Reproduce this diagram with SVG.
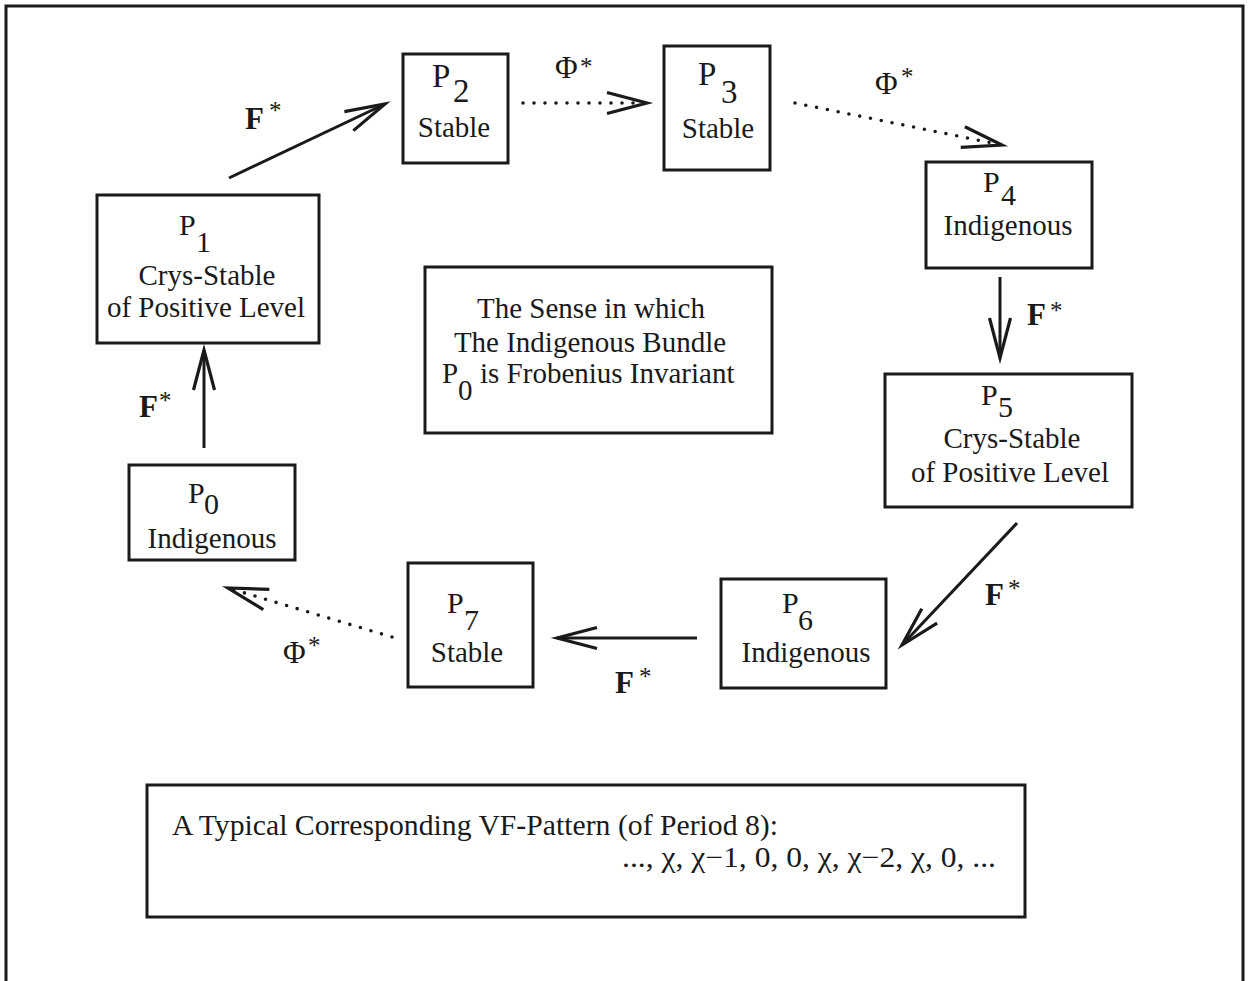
<svg xmlns="http://www.w3.org/2000/svg" width="1248" height="981" viewBox="0 0 1248 981">
<style>
.bx{fill:none;stroke:#1a1a1a;stroke-width:3}
.t{font-family:"Liberation Serif","Times New Roman",serif;font-size:29px;fill:#1a1a1a}
.c{text-anchor:middle}
.p{font-family:"Liberation Serif","Times New Roman",serif;font-size:30px;fill:#1a1a1a}
.pl{font-family:"Liberation Serif","Times New Roman",serif;font-size:33px;fill:#1a1a1a}
.ln{fill:none;stroke:#1a1a1a;stroke-width:3}
.dt{fill:none;stroke:#1a1a1a;stroke-width:3.6;stroke-linecap:round;stroke-dasharray:0 11}
.fb{font-family:"Liberation Serif","Times New Roman",serif;font-size:31px;font-weight:bold;fill:#1a1a1a}
.ph{font-family:"Liberation Serif","Times New Roman",serif;font-size:31px;fill:#1a1a1a}
.st{font-family:"Liberation Serif","Times New Roman",serif;font-size:25px;fill:#1a1a1a}
</style>
<defs>
<marker id="ah" markerUnits="userSpaceOnUse" orient="auto" markerWidth="1" markerHeight="1" refX="0" refY="0" overflow="visible">
<path d="M-40,-10.5 L0,0 L-40,10.5" fill="none" stroke="#1a1a1a" stroke-width="3.2" stroke-linejoin="miter"/>
</marker>
</defs>
<rect width="1248" height="981" fill="#ffffff"/>
<path d="M6,981 V6 H1243 V981" fill="none" stroke="#1a1a1a" stroke-width="3"/>

<g id="connectors">
<path class="ln" d="M204,448 L204,350" marker-end="url(#ah)"/>
<path class="ln" d="M229,178 L385,104" marker-end="url(#ah)"/>
<path class="dt" d="M523,103 L647,103" marker-end="url(#ah)"/>
<path class="dt" d="M795,103 L1002,145" marker-end="url(#ah)"/>
<path class="ln" d="M1000,277 L1000,358" marker-end="url(#ah)"/>
<path class="ln" d="M1017,523 L902,645" marker-end="url(#ah)"/>
<path class="ln" d="M697,638 L557,638" marker-end="url(#ah)"/>
<path class="dt" d="M392,637 L228,588" marker-end="url(#ah)"/>
<text class="fb" x="139" y="417">F</text><text class="st" x="159" y="409">*</text>
<text class="fb" x="245" y="129">F</text><text class="st" x="269" y="119">*</text>
<text class="ph" x="555" y="78">Φ</text><text class="st" x="580" y="75">*</text>
<text class="ph" x="875" y="94">Φ</text><text class="st" x="901" y="85">*</text>
<text class="fb" x="1027" y="325">F</text><text class="st" x="1050" y="319">*</text>
<text class="fb" x="985" y="605">F</text><text class="st" x="1008" y="597">*</text>
<text class="fb" x="615" y="693">F</text><text class="st" x="639" y="685">*</text>
<text class="ph" x="283" y="663">Φ</text><text class="st" x="308" y="654">*</text>
</g>

<g id="P0">
<rect class="bx" x="129" y="465" width="166" height="95"/>
<text class="p" x="188" y="503">P</text><text class="p" x="204" y="514">0</text>
<text class="t c" x="212" y="548">Indigenous</text>
</g>
<g id="P1">
<rect class="bx" x="97" y="195" width="222" height="148"/>
<text class="p" x="179" y="235">P</text><text class="p" x="196" y="252">1</text>
<text class="t c" x="207" y="285">Crys-Stable</text>
<text class="t c" x="206" y="317">of Positive Level</text>
</g>
<g id="P2">
<rect class="bx" x="403" y="54" width="105" height="109"/>
<text class="pl" x="432" y="87">P</text><text class="pl" x="453" y="102">2</text>
<text class="t c" x="454" y="137">Stable</text>
</g>
<g id="P3">
<rect class="bx" x="664" y="46" width="106" height="124"/>
<text class="pl" x="698" y="85">P</text><text class="pl" x="721" y="103">3</text>
<text class="t c" x="718" y="138">Stable</text>
</g>
<g id="P4">
<rect class="bx" x="926" y="162" width="166" height="106"/>
<text class="p" x="983" y="192">P</text><text class="p" x="1001" y="205">4</text>
<text class="t c" x="1008" y="235">Indigenous</text>
</g>
<g id="P5">
<rect class="bx" x="885" y="374" width="247" height="133"/>
<text class="p" x="981" y="405">P</text><text class="p" x="998" y="417">5</text>
<text class="t c" x="1012" y="448">Crys-Stable</text>
<text class="t c" x="1010" y="482">of Positive Level</text>
</g>
<g id="P6">
<rect class="bx" x="721" y="579" width="165" height="109"/>
<text class="p" x="782" y="613">P</text><text class="p" x="798" y="630">6</text>
<text class="t c" x="806" y="662">Indigenous</text>
</g>
<g id="P7">
<rect class="bx" x="408" y="563" width="125" height="124"/>
<text class="p" x="447" y="613">P</text><text class="p" x="464" y="630">7</text>
<text class="t c" x="467" y="662">Stable</text>
</g>
<g id="center">
<rect class="bx" x="425" y="267" width="347" height="166"/>
<text class="t c" x="591" y="318">The Sense in which</text>
<text class="t c" x="590" y="352">The Indigenous Bundle</text>
<text class="t" x="442" y="383">P</text><text class="t" x="458" y="400">0</text>
<text class="t" x="480" y="383">is Frobenius Invariant</text>
</g>
<g id="pattern">
<rect class="bx" x="147" y="785" width="878" height="132"/>
<text class="t" x="172" y="835" textLength="606" lengthAdjust="spacingAndGlyphs">A Typical Corresponding VF-Pattern (of Period 8):</text>
<text class="t" x="622" y="867" textLength="374" lengthAdjust="spacingAndGlyphs">..., χ, χ−1, 0, 0, χ, χ−2, χ, 0, ...</text>
</g>
</svg>
